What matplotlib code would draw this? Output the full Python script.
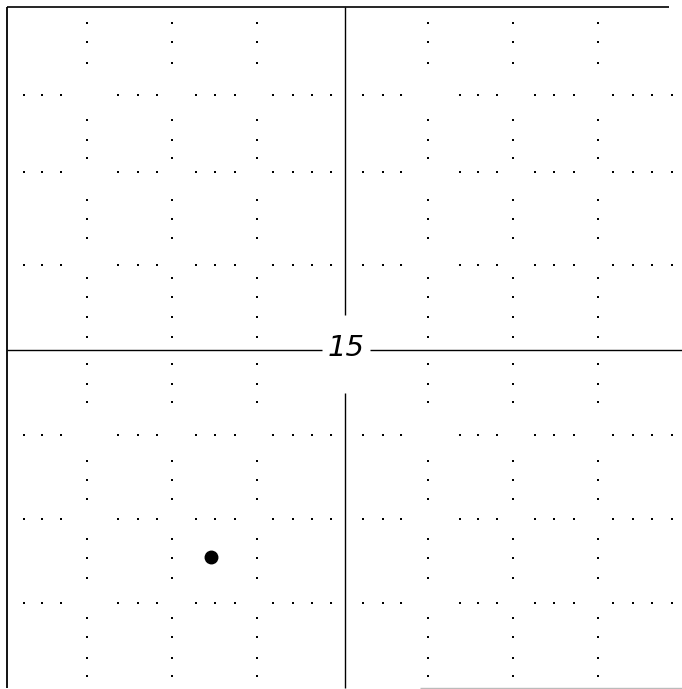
import matplotlib.pyplot as plt
import numpy as np

# grid in "cell" units, centre of the target at (0, 0)
col_x = [-3.04, -2.04, -1.04, 0.98, 1.98, 2.98]
row_y = [3.0, 2.1, 1.0, -1.0, -1.99, -2.98]

# dot positions along the dotted rows (x) and dotted columns (y)
dot_x = [-3.78, -3.56, -3.34, -2.67, -2.44, -2.21, -1.75, -1.53, -1.29,
         -0.85, -0.61, -0.39, -0.16, 0.21, 0.45, 0.66, 1.35, 1.56, 1.79,
         2.24, 2.46, 2.69, 3.15, 3.39, 3.61, 3.85]
dot_y = [3.85, 3.62, 3.38, 2.71, 2.47, 2.26, 1.76, 1.54, 1.32,
         0.85, 0.62, 0.39, 0.15, -0.16, -0.40, -0.61, -1.31, -1.53, -1.75,
         -2.22, -2.45, -2.68, -3.15, -3.38, -3.62, -3.84]

spot_x = [-1.58]
spot_y = [-2.44]

label = "15"

# frame / cross hair extents
left, right, top, bottom = -3.98, 3.96, 4.04, -3.98
top_end = 3.81
gap_x = (-0.27, 0.29)
gap_y = (-0.51, 0.41)

fig = plt.figure(figsize=(6.82, 6.89), dpi=100)
ax = fig.add_axes([0, 0, 1, 1])
ax.set_xlim(-4.06, 3.965)
ax.set_ylim(-3.99, 4.12)
ax.axis('off')

# dotted rows
gx, gy = np.meshgrid(dot_x, row_y)
ax.plot(gx.ravel(), gy.ravel(), 's', color='black', ms=1.8, mew=0)
# dotted columns
gx, gy = np.meshgrid(col_x, dot_y)
ax.plot(gx.ravel(), gy.ravel(), 's', color='black', ms=1.8, mew=0)

# cross hair
ax.hlines(0, left, gap_x[0], color='black', lw=1.0)
ax.hlines(0, gap_x[1], right, color='black', lw=1.0)
ax.vlines(0, gap_y[1], top, color='black', lw=1.0)
ax.vlines(0, bottom, gap_y[0], color='black', lw=1.0)

# frame
ax.vlines(left, bottom, top, color='black', lw=1.3)
ax.hlines(top, left, top_end, color='black', lw=1.2)
ax.hlines(bottom, 0.88, right, color='#bbbbbb', lw=1.0)

ax.text(0.01, 0.02, label, fontsize=21, style='italic', ha='center', va='center')

ax.plot(spot_x, spot_y, 'o', color='black', ms=9)

fig.savefig('out.png', dpi=100)
